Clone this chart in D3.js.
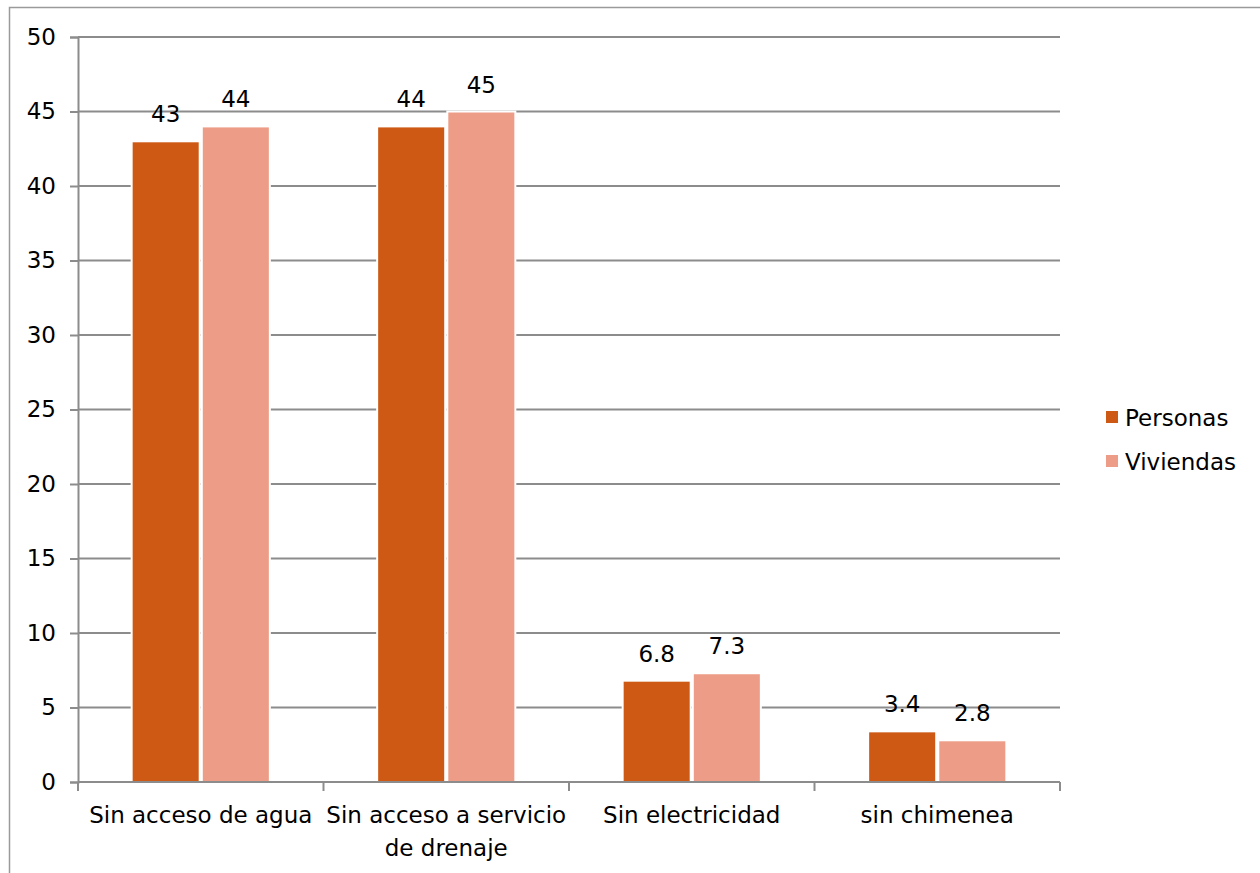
<!DOCTYPE html>
<html>
<head>
<meta charset="utf-8">
<script src="https://cdn.jsdelivr.net/npm/d3@7"></script>
<style>
  body { margin: 0; background: #fff; }
  svg { display: block; font-family: "DejaVu Sans", sans-serif; }
</style>
</head>
<body>
<svg id="chart" width="1260" height="873"></svg>
<script>
const categories = ["Sin acceso de agua", "Sin acceso a servicio de drenaje", "Sin electricidad", "sin chimenea"];
const categoryLines = [["Sin acceso de agua"], ["Sin acceso a servicio", "de drenaje"], ["Sin electricidad"], ["sin chimenea"]];
const seriesNames = ["Personas", "Viviendas"];
const personas = [43, 44, 6.8, 3.4];
const viviendas = [44, 45, 7.3, 2.8];
const yTicks = [0, 5, 10, 15, 20, 25, 30, 35, 40, 45, 50];
const colors = ["#cd5915", "#ed9d87"];

const svg = d3.select("#chart");
const W = 1260, H = 873;
const fs = 23;

// outer frame
svg.append("rect")
  .attr("x", 9.5).attr("y", 7.5)
  .attr("width", W + 20).attr("height", H + 20)
  .attr("fill", "none").attr("stroke", "#9a9a9a").attr("stroke-width", 1.5);

const x = d3.scaleBand().domain(categories).range([78, 1060]);
const xs = d3.scaleBand().domain(seriesNames).range([0, x.bandwidth()]).paddingInner(0.03).paddingOuter(0.765);
const y = d3.scaleLinear().domain([0, 50]).range([782, 37]);

// gridlines
svg.append("g").selectAll("line").data(yTicks.filter(d => d > 0)).join("line")
  .attr("x1", 78).attr("x2", 1060)
  .attr("y1", d => y(d)).attr("y2", d => y(d))
  .attr("stroke", "#8c8c8c").attr("stroke-width", 2);

// y axis
const yAxis = svg.append("g").attr("transform", "translate(78,0)")
  .call(d3.axisLeft(y).tickValues(yTicks).tickSize(8).tickPadding(14));
yAxis.select(".domain").attr("stroke", "#8c8c8c").attr("stroke-width", 2);
yAxis.selectAll(".tick line").attr("stroke", "#8c8c8c").attr("stroke-width", 2);
yAxis.selectAll("text").attr("font-size", fs).attr("fill", "#000").attr("font-family", "DejaVu Sans");

const data = categories.map((c, i) => ({ cat: c, values: [personas[i], viviendas[i]] }));

// bars
const groups = svg.append("g").selectAll("g").data(data).join("g")
  .attr("transform", d => `translate(${x(d.cat)},0)`);

groups.selectAll("rect").data(d => d.values.map((v, j) => ({ v, s: seriesNames[j], j }))).join("rect")
  .attr("x", d => xs(d.s))
  .attr("y", d => y(d.v))
  .attr("width", xs.bandwidth())
  .attr("height", d => y(0) - y(d.v))
  .attr("fill", d => colors[d.j])
  .attr("stroke", "#fff").attr("stroke-width", 2);

groups.selectAll("text").data(d => d.values.map((v, j) => ({ v, s: seriesNames[j], j }))).join("text")
  .attr("x", d => xs(d.s) + xs.bandwidth() / 2)
  .attr("y", d => y(d.v) - 19)
  .attr("text-anchor", "middle")
  .attr("font-size", fs)
  .text(d => d.v);

// x axis
const xAxis = svg.append("g").attr("transform", "translate(0,782)");
xAxis.append("line").attr("x1", 78).attr("x2", 1060)
  .attr("stroke", "#8c8c8c").attr("stroke-width", 2);
const bounds = categories.map(c => x(c)).concat([1060]);
xAxis.selectAll(".tk").data(bounds).join("line").attr("class", "tk")
  .attr("x1", d => d).attr("x2", d => d).attr("y1", 0).attr("y2", 9)
  .attr("stroke", "#8c8c8c").attr("stroke-width", 2);

const xl = xAxis.selectAll(".lbl").data(categories).join("text").attr("class", "lbl")
  .attr("x", d => x(d) + x.bandwidth() / 2)
  .attr("text-anchor", "middle").attr("font-size", fs);
xl.selectAll("tspan").data((d, i) => categoryLines[i]).join("tspan")
  .attr("x", function () { return d3.select(this.parentNode).attr("x"); })
  .attr("y", (d, k) => 41 + k * 33)
  .text(d => d);

// legend
const legend = svg.append("g").attr("transform", "translate(1106,411)");
const li = legend.selectAll("g").data(seriesNames).join("g")
  .attr("transform", (d, i) => `translate(0,${i * 44})`);
li.append("rect").attr("width", 12).attr("height", 12).attr("fill", (d, i) => colors[i]);
li.append("text").attr("x", 19).attr("y", 15).attr("font-size", fs).text(d => d);
</script>
</body>
</html>
